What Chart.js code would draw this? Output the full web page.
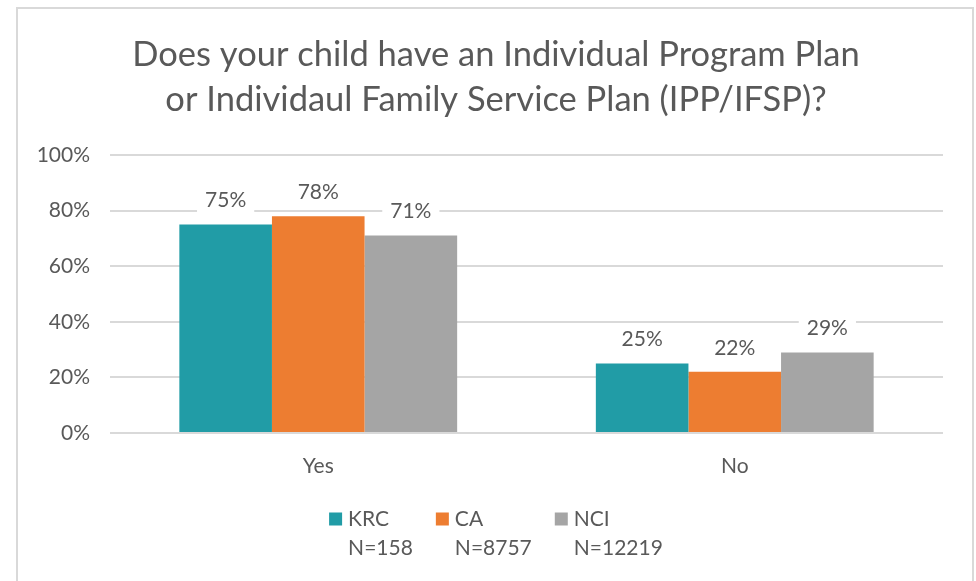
<!DOCTYPE html>
<html>
<head>
<meta charset="utf-8">
<script src="https://cdn.jsdelivr.net/npm/chart.js@4"></script>
<style>
  html, body { margin: 0; padding: 0; background: #fff; }
  #wrap { position: relative; width: 976px; height: 581px; overflow: hidden; }
  #frame { position: absolute; left: 16px; top: 7px; width: 954px; height: 600px; border: 2px solid #d9d9d9; }
  #box { position: absolute; left: 0; top: 0; width: 976px; height: 581px; }
</style>
</head>
<body>
<div id="wrap">
  <div id="frame"></div>
  <div id="box"><canvas id="chart"></canvas></div>
</div>
<script>
const categories = ["Yes", "No"];
const seriesNames = ["KRC", "CA", "NCI"];
const seriesN = ["N=158", "N=8757", "N=12219"];
const krcValues = [75, 25];
const caValues = [78, 22];
const nciValues = [71, 29];
const seriesColors = ["#219ca6", "#ed7d31", "#a5a5a5"];
const titleLines = [
  "Does your child have an Individual Program Plan",
  "or Individaul Family Service Plan (IPP/IFSP)?"
];

const textColor = "#595959";
const fontFamily = "Lato, 'Open Sans', sans-serif";

// title centred on the frame rather than on the plot
const frameTitle = {
  id: "frameTitle",
  afterDraw(chart) {
    const ctx = chart.ctx;
    ctx.save();
    ctx.font = "34.5px " + fontFamily;
    ctx.fillStyle = textColor;
    ctx.textAlign = "center";
    ctx.textBaseline = "middle";
    titleLines.forEach((line, i) => ctx.fillText(line, (chart.width + 16) / 2, 55 + i * 45));
    ctx.restore();
  }
};

// labels above the bars, with a white box behind them
const barLabels = {
  id: "barLabels",
  afterDatasetsDraw(chart) {
    const ctx = chart.ctx;
    ctx.save();
    ctx.font = "21px " + fontFamily;
    ctx.textAlign = "center";
    ctx.textBaseline = "middle";
    chart.data.datasets.forEach((ds, i) => {
      chart.getDatasetMeta(i).data.forEach((bar, j) => {
        const txt = ds.data[j] + "%";
        const y = bar.y - 24;
        const w = ctx.measureText(txt).width;
        ctx.fillStyle = "#fff";
        ctx.fillRect(bar.x - w / 2 - 8, y - 16, w + 16, 30);
        ctx.fillStyle = textColor;
        ctx.fillText(txt, bar.x, y);
      });
    });
    ctx.restore();
  }
};

// legend with two text lines per item
const twoLineLegend = {
  id: "twoLineLegend",
  afterDraw(chart) {
    const ctx = chart.ctx;
    ctx.save();
    ctx.font = "21px " + fontFamily;
    ctx.textBaseline = "middle";
    const box = 13, gap = 6, spacing = 23;
    const items = chart.data.datasets.map((ds) => {
      const w = Math.max(...ds.label.map((t) => ctx.measureText(t).width));
      return { ds, w };
    });
    let total = 0;
    items.forEach((it, i) => { total += box + gap + it.w + (i < items.length - 1 ? spacing : 0); });
    let x = (chart.width + 16) / 2 - total / 2;
    const y1 = 519, y2 = 548;
    items.forEach((it) => {
      ctx.fillStyle = it.ds.backgroundColor;
      ctx.fillRect(x, y1 - box / 2, box, box);
      ctx.fillStyle = textColor;
      ctx.textAlign = "left";
      ctx.fillText(it.ds.label[0], x + box + gap, y1);
      ctx.fillText(it.ds.label[1], x + box + gap, y2);
      x += box + gap + it.w + spacing;
    });
    ctx.restore();
  }
};

const valueLists = [krcValues, caValues, nciValues];

new Chart(document.getElementById("chart"), {
  type: "bar",
  data: {
    labels: categories,
    datasets: seriesNames.map((name, i) => ({
      label: [name, seriesN[i]],
      data: valueLists[i],
      backgroundColor: seriesColors[i],
      categoryPercentage: 0.667,
      barPercentage: 1.0
    }))
  },
  options: {
    responsive: true,
    maintainAspectRatio: false,
    animation: false,
    layout: { padding: { top: 155, left: 20, right: 33, bottom: 98 } },
    plugins: {
      legend: { display: false },
      tooltip: { enabled: false },
      title: { display: false }
    },
    scales: {
      x: {
        grid: { display: false },
        border: { display: false },
        ticks: { color: textColor, font: { family: fontFamily, size: 21 }, padding: 13 },
        afterFit(scale) { scale.height = 50; }
      },
      y: {
        min: 0,
        max: 100,
        ticks: {
          stepSize: 20,
          color: textColor,
          font: { family: fontFamily, size: 21 },
          padding: 20,
          callback: (v) => v + "%"
        },
        grid: { color: "#d9d9d9", lineWidth: 2, drawTicks: false },
        border: { display: false },
        afterFit(scale) { scale.width = 90; }
      }
    }
  },
  plugins: [frameTitle, barLabels, twoLineLegend]
});
</script>
</body>
</html>
